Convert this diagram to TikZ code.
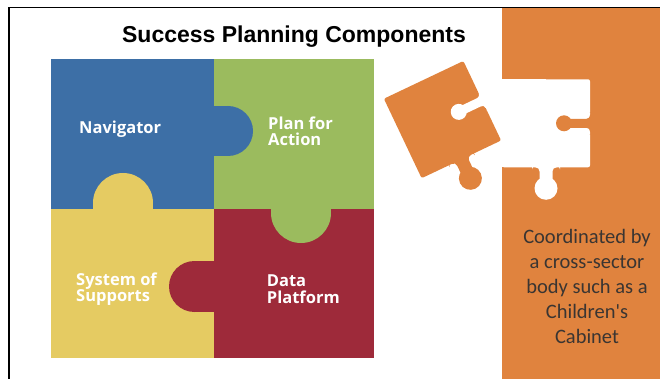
\documentclass[tikz,border=0pt]{standalone}
\usepackage{fontspec}
\setmainfont{Open Sans}
\newfontfamily\titlefont{Liberation Sans}
\newfontfamily\labelfont{Open Sans}
\newfontfamily\bodyfont{Carlito}
\definecolor{pzblue}{HTML}{3D6FA6}
\definecolor{pzgreen}{HTML}{9BBB5E}
\definecolor{pzyellow}{HTML}{E5CB62}
\definecolor{pzred}{HTML}{9E2A3A}
\definecolor{pzorange}{HTML}{E0833E}
\definecolor{bodytext}{HTML}{3A3532}
% local puzzle piece: #1 = piece colour, #2 = background colour
\newcommand\puzzlepiece[2]{%
  \fill[#1, rounded corners=2pt] (-44,-44) rectangle (44,44);
  % knob (bottom)
  \fill[#1, rounded corners=4pt] (-14,42) -- (-14,44) -- (-6.5,44) -- (-6.5,62)
     -- (6.5,62) -- (6.5,44) -- (14,44) -- (14,42) -- cycle;
  \fill[#1] (0,65) circle[radius=11.5pt];
  % socket (right)
  \fill[#2, rounded corners=3.5pt] (47,-11) -- (44,-11) -- (44,-4.5) -- (16,-4.5)
     -- (16,4.5) -- (44,4.5) -- (44,11) -- (47,11) -- cycle;
  \fill[#2] (18,0) circle[radius=8pt];
}
\begin{document}
\begin{tikzpicture}[x=1pt,y=-1pt,
  lbl/.style={font=\labelfont\bfseries\fontsize{16.5}{16.7}\selectfont, text=white,
    inner sep=0, align=left, anchor=base west}]
\useasboundingbox (0,0) rectangle (660,379);
\fill[white] (0,0) rectangle (660,379);
% orange side panel
\fill[pzorange] (502,8) rectangle (660,379);
% hole in the panel
\begin{scope}[shift={(546,123.3)}]
  \fill[white] (-48,-44) rectangle (0,44);
  \puzzlepiece{white}{pzorange}
\end{scope}
% loose piece
\begin{scope}[shift={(442.5,119.6)}, rotate=25.4]
  \puzzlepiece{pzorange}{white}
\end{scope}
% frame
\draw[line width=1.6pt] (9,379) -- (9,7.5) -- (660,7.5);
% four-piece puzzle
\fill[pzblue]   (51,59)   rectangle (214,209);
\fill[pzgreen]  (214,59)  rectangle (374,209);
\fill[pzyellow] (51,209)  rectangle (214,358);
\fill[pzred]    (214,209) rectangle (374,358);
\fill[pzblue] (213,106) rectangle (228,156);
\fill[pzblue] (228,131) circle[radius=25pt];
\fill[pzyellow] (93,210) rectangle (153,203);
\fill[pzyellow] (123,203) circle[radius=30pt];
\fill[pzgreen] (271,208) rectangle (331,213);
\fill[pzgreen] (301,213) circle[radius=30pt];
\fill[pzred] (194.5,261) rectangle (215,312);
\fill[pzred] (194.5,286.5) circle[radius=25.5pt];
% texts
\node[anchor=base, inner sep=0, font=\titlefont\bfseries\fontsize{23}{27}\selectfont]
  (title) at (294,43) {Success Planning Components};
\node[lbl] (nav) at (79,134) {Navigator};
\node[lbl] (plan) at (268,146) {Plan for\\Action};
\node[lbl] (sys) at (76,301.7) {System of\\Supports};
\node[lbl] (data) at (266.7,303.3) {Data\\Platform};
\node[anchor=base, inner sep=0, align=center, text=bodytext,
  font=\bodyfont\fontsize{20.5}{25}\selectfont] (coord) at (587,343.3)
  {Coordinated by\\a cross-sector\\body such as a\\Children's\\Cabinet};
\end{tikzpicture}
\end{document}
